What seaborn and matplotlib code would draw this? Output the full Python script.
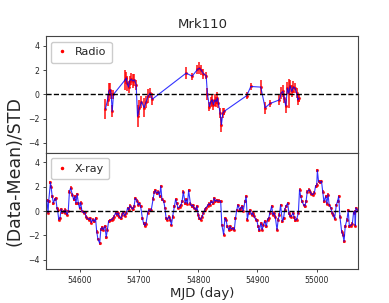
import numpy as np
import seaborn as sns
import matplotlib
matplotlib.use('Agg')
import matplotlib.pyplot as plt
from matplotlib.lines import Line2D

# Radio light curve (normalised)
radio_mjd = [54643.8, 54647.2, 54649.4, 54651.7, 54653.4, 54655.1, 54657.3,
             54677.0, 54678.7, 54680.3, 54682.6, 54684.3, 54687.1, 54689.9, 54692.7, 54695.5,
             54697.8, 54701.1, 54704.5, 54709.0, 54712.4, 54715.7, 54719.1, 54722.5,
             54779.8, 54789.9, 54798.9, 54802.2, 54805.1, 54809.0, 54813.5, 54815.7,
             54819.1, 54821.3, 54823.6, 54825.8, 54828.1, 54830.3, 54832.6, 54834.3,
             54837.1, 54839.3, 54841.6, 54843.8,
             54882.0, 54888.8, 54905.6, 54912.9, 54921.3,
             54937.1, 54939.9, 54942.7, 54944.9, 54947.7, 54950.6, 54952.8, 54955.1,
             54957.9, 54960.7, 54963.5, 54966.3, 54968.0, 54970.2]
radio_val = [-1.2, -0.45, 0.25, 0.4, 0.0, -1.4, 0.0,
             1.2, 1.35, 0.9, 0.6, 1.1, 1.25, 1.1, 1.2, 0.8,
             -1.8, -1.1, -0.6, -1.1, -0.6, -0.15, 0.1, -0.4,
             1.75, 1.5, 2.05, 2.15, 2.0, 1.7, 1.55, 0.0,
             -1.0, -0.6, -0.45, -0.85, -0.45, -0.6, -0.3, -0.75,
             -1.55, -2.5, -1.55, -1.4,
             -0.1, 0.65, 0.6, -1.1, -0.75,
             -0.45, 0.1, 0.25, -0.3, -0.95, 0.5, 0.1, 0.7,
             0.25, 0.6, 0.5, 0.1, -0.45, -0.3]
radio_err = [0.8, 0.5, 0.7, 0.5, 0.4, 0.5, 0.4,
             0.8, 0.5, 0.6, 0.5, 0.4, 0.5, 0.6, 0.5, 0.4,
             0.9, 0.6, 0.5, 0.8, 0.5, 0.6, 0.4, 0.5,
             0.5, 0.3, 0.4, 0.5, 0.4, 0.4, 0.3, 0.5,
             0.4, 0.4, 0.5, 0.4, 0.5, 0.4, 0.5, 0.4,
             0.4, 0.6, 0.4, 0.3,
             0.3, 0.25, 0.6, 0.5, 0.3,
             0.4, 0.5, 0.5, 0.4, 0.6, 0.5, 1.2, 0.5,
             0.5, 0.5, 0.4, 0.4, 0.4, 0.3]

# X-ray light curve (normalised)
xray_mjd = [54545, 54547, 54548, 54551, 54552, 54554, 54556, 54558, 54560, 54562,
            54563, 54565, 54567, 54569, 54571, 54573, 54575, 54576, 54579, 54581,
            54583, 54585, 54588, 54590, 54592, 54594, 54596, 54598, 54600, 54602,
            54604, 54607, 54609, 54611, 54613, 54616, 54618, 54620, 54622, 54625,
            54627, 54629, 54631, 54634, 54636, 54638, 54640, 54643, 54645, 54647,
            54649, 54652, 54654, 54656, 54658, 54661, 54663, 54665, 54667, 54670,
            54672, 54674, 54676, 54679, 54681, 54683, 54685, 54688, 54690, 54692,
            54694, 54697, 54699, 54701, 54703, 54706, 54708, 54710, 54712, 54715,
            54717, 54719, 54721, 54724, 54726, 54728, 54730, 54733, 54735, 54737,
            54739, 54742, 54744, 54746, 54748, 54751, 54753, 54755, 54757, 54760,
            54762, 54764, 54766, 54769, 54771, 54773, 54775, 54778, 54780, 54782,
            54784, 54787, 54789, 54791, 54793, 54796, 54798, 54800, 54802, 54804,
            54807, 54809, 54811, 54813, 54816, 54818, 54820, 54822, 54825, 54827,
            54829, 54831, 54834, 54836, 54838, 54840, 54843, 54845, 54847, 54849,
            54852, 54854, 54856, 54858, 54861, 54863, 54865, 54867, 54870, 54872,
            54874, 54876, 54879, 54881, 54883, 54885, 54888, 54890, 54892, 54894,
            54897, 54899, 54901, 54903, 54906, 54908, 54910, 54912, 54915, 54917,
            54919, 54921, 54924, 54926, 54928, 54930, 54933, 54935, 54937, 54939,
            54942, 54944, 54946, 54948, 54951, 54953, 54955, 54957, 54960, 54962,
            54964, 54966, 54969, 54971, 54973, 54975, 54978, 54980, 54982, 54984,
            54987, 54989, 54991, 54993, 54996, 54998, 55000, 55001, 55003, 55006,
            55008, 55010, 55012, 55015, 55017, 55019, 55021, 55024, 55026, 55028,
            55030, 55033, 55035, 55037, 55039, 55042, 55044, 55046, 55048, 55051,
            55053, 55055, 55057, 55060, 55062, 55064, 55065, 55066, 55069]
xray_val = [0.9, -0.15, 0.8, 2.35, 2.0, 1.2, 0.65, 0.95, 1.05, 0.25,
            0.1, -0.7, -0.6, 0.15, -0.1, 0.0, -0.15, 0.1, -0.3, 0.0,
            1.6, 1.9, 1.35, 0.95, 1.2, 0.65, 1.4, 0.65, 0.25, 0.7,
            0.0, -0.15, -0.1, -0.45, -0.6, -0.7, -0.6, -0.95, -0.7, -0.85,
            -0.6, -1.7, -2.3, -2.65, -1.5, -1.35, -1.55, -1.25, -2.15, -1.55,
            -0.85, -0.75, -0.7, -0.65, -0.45, -0.15, -0.3, -0.15, -0.45, -0.6,
            -0.3, -0.1, -0.4, -0.15, 0.25, 0.1, 0.45, 0.25, 0.15, 0.4,
            1.05, 0.85, 0.5, 0.65, 0.4, -0.6, -1.0, -1.2, -1.05, -0.15,
            0.1, 0.05, 0.1, 1.0, 1.55, 1.7, 1.45, 1.6, 1.2, 2.05,
            0.95, 0.8, 0.25, -0.6, -0.7, -0.45, -0.7, -1.15, -0.45, 0.4,
            0.95, 0.65, 0.25, 0.35, 0.5, 0.8, 1.6, 0.65, 0.95, 0.6,
            1.7, 0.6, 0.4, 0.5, 0.25, 0.1, 0.4, -0.3, -0.6, -0.7,
            -0.45, -0.15, 0.1, 0.25, 0.45, 0.6, 0.5, 0.8, 0.65, 1.05,
            0.8, 0.9, 0.8, 0.85, 0.8, -1.15, -1.95, -0.6, -0.7, -1.25,
            -1.55, -1.25, -1.5, -1.4, -1.55, -0.6, 0.05, 0.5, 0.1, 0.25,
            0.4, 0.0, 0.8, 1.2, -0.7, -0.15, 0.05, -0.3, -0.15, -0.4,
            -0.7, -0.75, -1.25, -1.6, -1.0, -1.55, -1.15, -0.85, -1.25, -0.7,
            -0.6, -0.15, 0.4, -0.3, -0.15, -0.45, -1.55, -0.7, -0.3, 0.5,
            -0.85, -0.6, 0.1, 0.4, 0.65, -0.2, -0.4, -0.45, -0.15, -0.5,
            -0.75, -0.7, -0.15, 1.75, 1.2, 0.8, 0.5, 0.4, 0.8, 1.6,
            1.75, 1.6, 1.4, 1.35, 1.5, 2.05, 2.15, 3.35, 2.45, 2.35,
            2.45, 1.6, 0.8, 1.2, 0.6, 1.35, 0.5, 0.25, -0.15, -0.3,
            -0.65, 0.5, 0.8, 1.2, -0.45, -1.7, -1.95, -2.5, -1.25, -0.7,
            0.05, -1.25, -1.2, -1.05, -0.15, 0.0, -1.2, 0.25, 0.05]
XRAY_ERR = 0.12

sns.set_style('ticks')
plt.rcParams['font.family'] = ['DejaVu Sans']

fig, axes = plt.subplots(2, 1, figsize=(3.89, 3.03), dpi=100, sharex=True)
fig.subplots_adjust(left=0.1175, right=0.921, top=0.881, bottom=0.111, hspace=0)

series = [(radio_mjd, radio_val, radio_err, 'Radio'),
          (xray_mjd, xray_val, XRAY_ERR, 'X-ray')]

for ax, (t, v, e, name) in zip(axes, series):
    ax.errorbar(t, v, yerr=e, fmt='.', color='red', ecolor='red', elinewidth=1.4,
                markersize=2.5, alpha=0.75, zorder=2)
    sns.lineplot(x=t, y=v, sort=False, estimator=None, color='blue', lw=0.8,
                 alpha=0.8, ax=ax, zorder=3)
    ax.axhline(0, color='black', ls='--', lw=1.0, zorder=4)
    ax.set_ylim(-4.8, 4.8)
    ax.set_yticks([-4, -2, 0, 2, 4])
    ax.tick_params(labelsize=5.6, length=2.5, width=0.6, pad=2)
    for s in ax.spines.values():
        s.set_color('#444444')
        s.set_linewidth(0.8)
    handle = Line2D([], [], ls='none', marker='.', color='red', markersize=3)
    ax.legend([handle], [name], loc='upper left', fontsize=8, handlelength=1.0,
              handletextpad=0.6, borderpad=0.5, framealpha=1)

axes[1].set_xlim(54543, 55070)
axes[1].set_xticks([54600, 54700, 54800, 54900, 55000])

fig.text(0.52, 1 - 24 / 303, 'Mrk110', ha='center', va='center', fontsize=9.5)
fig.text(0.52, 1 - 293 / 303, 'MJD (day)', ha='center', va='center', fontsize=9.5)
fig.text(15 / 389, 1 - 171 / 303, '(Data-Mean)/STD', ha='center', va='center',
         rotation=90, fontsize=12.5)

fig.savefig('out.png', dpi=100)
